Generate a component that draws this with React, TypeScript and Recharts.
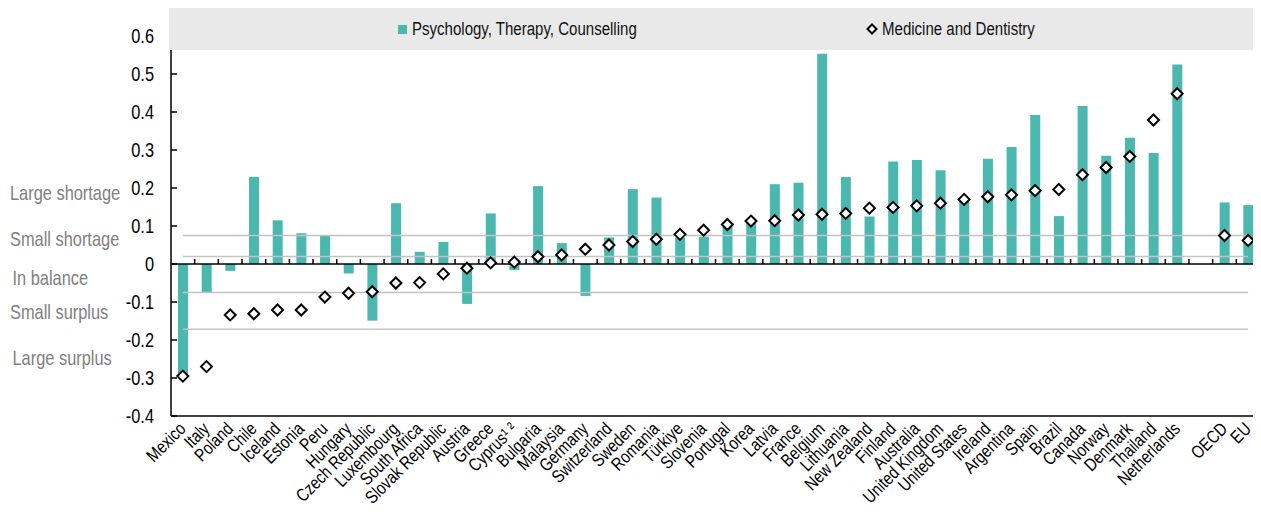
import React from 'react';
import { ComposedChart, Bar, Line, XAxis, YAxis, ReferenceLine, Legend } from 'recharts';

const countries = [
  'Mexico', 'Italy', 'Poland', 'Chile', 'Iceland', 'Estonia', 'Peru', 'Hungary',
  'Czech Republic', 'Luxembourg', 'South Africa', 'Slovak Republic', 'Austria', 'Greece',
  'Cyprus\u00B9 \u00B2', 'Bulgaria', 'Malaysia', 'Germany', 'Switzerland', 'Sweden', 'Romania',
  'Türkiye', 'Slovenia', 'Portugal', 'Korea', 'Latvia', 'France', 'Belgium', 'Lithuania',
  'New Zealand', 'Finland', 'Australia', 'United Kingdom', 'United States', 'Ireland',
  'Argentina', 'Spain', 'Brazil', 'Canada', 'Norway', 'Denmark', 'Thailand', 'Netherlands',
  ' ', 'OECD', 'EU',
];

const psychology: (number | null)[] = [
  -0.29, -0.074, -0.018, 0.229, 0.115, 0.081, 0.075, -0.025,
  -0.149, 0.16, 0.032, 0.058, -0.105, 0.133,
  -0.016, 0.205, 0.055, -0.084, 0.07, 0.197, 0.175,
  0.07, 0.072, 0.098, 0.107, 0.21, 0.214, 0.553, 0.229,
  0.125, 0.27, 0.274, 0.247, 0.165, 0.277,
  0.308, 0.392, 0.126, 0.416, 0.285, 0.332, 0.292, 0.525,
  null, 0.162, 0.155,
];

const medicine: (number | null)[] = [
  -0.295, -0.27, -0.134, -0.131, -0.121, -0.121, -0.087, -0.077,
  -0.073, -0.05, -0.049, -0.026, -0.011, 0.003,
  0.005, 0.019, 0.024, 0.039, 0.05, 0.059, 0.065,
  0.078, 0.089, 0.104, 0.113, 0.114, 0.129, 0.131, 0.133,
  0.147, 0.149, 0.153, 0.16, 0.17, 0.177,
  0.182, 0.193, 0.196, 0.235, 0.254, 0.283, 0.379, 0.448,
  null, 0.075, 0.062,
];

const seriesNames = ['Psychology, Therapy, Counselling', 'Medicine and Dentistry'];
const yTicks = [-0.4, -0.3, -0.2, -0.1, 0, 0.1, 0.2, 0.3, 0.4, 0.5, 0.6];
const zoneLabels = ['Large shortage', 'Small shortage', 'In balance', 'Small surplus', 'Large surplus'];
const zonePositions = [0.1876, 0.066, -0.037, -0.1255, -0.247];
const thresholds = [0.075, 0.02, -0.075, -0.172];

const data = countries.map((name, i) => ({ name, psych: psychology[i], med: medicine[i] }));

const FONT = "'Liberation Sans', Arial, sans-serif";
const NARROW = 0.82;
const TEAL = '#4BB8B0';
const Y_AXIS_WIDTH = 163;

const fmt = (v: number) => String(Math.round(v * 10) / 10);

const NarrowText = (p: { x: number; y: number; anchor?: string; size: number; fill: string; rotate?: number; dy?: number; children: any }) => (
  <g transform={`translate(${p.x},${p.y})${p.rotate ? ` rotate(${p.rotate})` : ''} scale(${NARROW},1)`}>
    <text x={0} y={0} dy={p.dy || 0} textAnchor={(p.anchor as any) || 'start'} fill={p.fill} fontSize={p.size} fontFamily={FONT}>
      {p.children}
    </text>
  </g>
);

const YTick = (props: any) => {
  const { x, y, payload } = props;
  const zi = zonePositions.indexOf(payload.value);
  if (zi >= 0) {
    return (
      <NarrowText x={x - Y_AXIS_WIDTH + 2 + (zi === 2 || zi === 4 ? 2.5 : 0)} y={y} dy={7} size={20} fill="#808080">
        {zoneLabels[zi]}
      </NarrowText>
    );
  }
  return (
    <g>
      <line x1={x} x2={x + 6} y1={y} y2={y} stroke="#000" strokeWidth={1.5} />
      <NarrowText x={x - 17} y={y} dy={7} anchor="end" size={20} fill="#000">
        {fmt(payload.value)}
      </NarrowText>
    </g>
  );
};

const XTick = (props: any) => {
  const { x, y, payload } = props;
  return (
    <NarrowText x={x + 4} y={y + 14} rotate={-45} anchor="end" size={18} fill="#000">
      {payload.value}
    </NarrowText>
  );
};

const Diamond = (props: any) => {
  const { cx, cy, value } = props;
  if (value === null || value === undefined || cx == null || cy == null) return <g />;
  const r = 5.5;
  return (
    <polygon
      points={`${cx},${cy - r} ${cx + r},${cy} ${cx},${cy + r} ${cx - r},${cy}`}
      fill="#fff"
      stroke="#000"
      strokeWidth={2}
    />
  );
};

const ZeroLine = (props: any) => {
  const { x1, x2, y1 } = props;
  const n = data.length;
  const step = (x2 - x1) / n;
  const ticks = [];
  for (let i = 1; i < n; i++) {
    const xx = x1 + step * i;
    ticks.push(<line key={i} x1={xx} x2={xx} y1={y1} y2={y1 - 5} stroke="#000" strokeWidth={1.5} />);
  }
  return (
    <g>
      <line x1={x1} x2={x2} y1={y1} y2={y1} stroke="#000" strokeWidth={1.5} />
      {ticks}
    </g>
  );
};

const legendText: React.CSSProperties = {
  position: 'absolute',
  top: 10,
  lineHeight: '22px',
  whiteSpace: 'nowrap',
  transform: 'scaleX(0.835)',
  transformOrigin: 'left center',
};

const LegendContent = () => (
  <div style={{ position: 'relative', width: 1089, height: 42, background: '#E9E9E9', fontFamily: FONT, fontSize: 18, color: '#111' }}>
    <div style={{ position: 'absolute', left: 229, top: 17, width: 9, height: 9, background: TEAL }} />
    <div style={{ ...legendText, left: 243 }}>{seriesNames[0]}</div>
    <svg style={{ position: 'absolute', left: 697, top: 15 }} width={12} height={12}>
      <polygon points="6,1.5 10.5,6 6,10.5 1.5,6" fill="#fff" stroke="#000" strokeWidth={2} />
    </svg>
    <div style={{ ...legendText, left: 713 }}>{seriesNames[1]}</div>
  </div>
);

export default function App() {
  return (
    <div style={{ width: 1253, height: 510 }}>
      <ComposedChart width={1253} height={510} data={data} margin={{ top: 28, right: 0, bottom: 0, left: 0 }}>
        {thresholds.map((t) => (
          <ReferenceLine
            key={t}
            segment={[{ x: countries[0], y: t }, { x: countries[countries.length - 1], y: t }]}
            stroke="#C3C3C3"
            strokeWidth={1.5}
            ifOverflow="extendDomain"
          />
        ))}
        <XAxis
          dataKey="name"
          interval={0}
          height={102}
          tickSize={0}
          tickMargin={0}
          tickLine={false}
          axisLine={{ stroke: '#000', strokeWidth: 1.5 }}
          tick={<XTick />}
        />
        <YAxis
          domain={[-0.4, 0.6]}
          ticks={[...yTicks, ...zonePositions]}
          interval={0}
          width={Y_AXIS_WIDTH}
          tickSize={0}
          tickMargin={0}
          tickLine={false}
          axisLine={{ stroke: '#000', strokeWidth: 1.5 }}
          tick={<YTick />}
          allowDataOverflow
        />
        <YAxis yAxisId="right" orientation="right" width={1} tick={false} tickLine={false} axisLine={{ stroke: '#000', strokeWidth: 1.5 }} />
        <Bar dataKey="psych" name={seriesNames[0]} fill={TEAL} barSize={10} isAnimationActive={false} />
        <ReferenceLine y={0} shape={<ZeroLine />} />
        <Line
          dataKey="med"
          name={seriesNames[1]}
          stroke="none"
          dot={<Diamond />}
          activeDot={false}
          isAnimationActive={false}
        />
        <Legend
          verticalAlign="middle"
          align="center"
          layout="horizontal"
          content={<LegendContent />}
          wrapperStyle={{ position: 'absolute', top: 0, left: 161, width: 1089, height: 42 }}
        />
      </ComposedChart>
    </div>
  );
}
